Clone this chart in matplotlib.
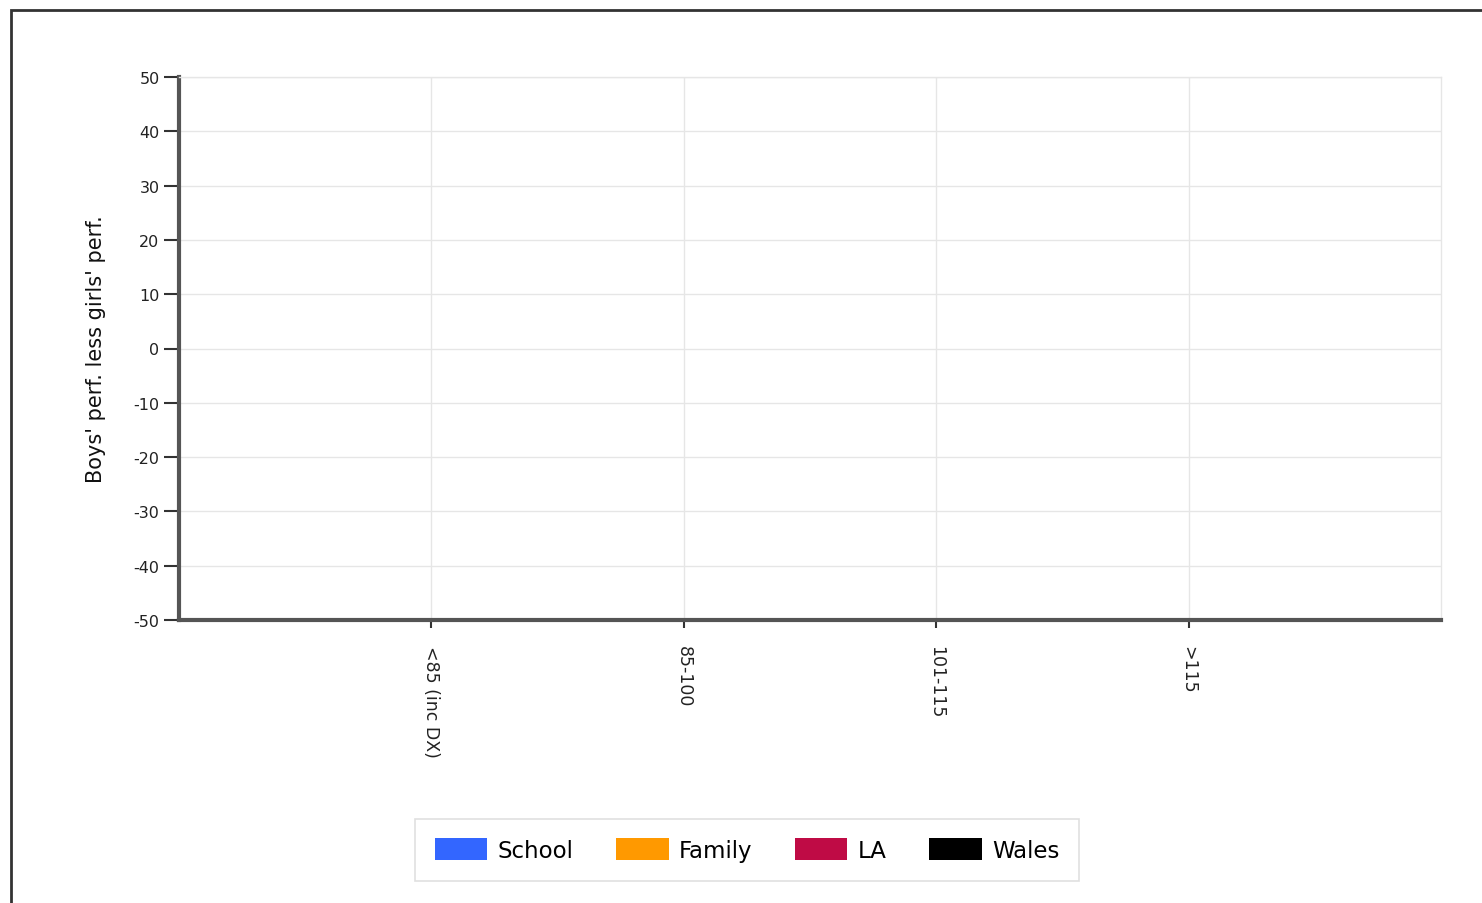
import numpy as np
import matplotlib.pyplot as plt
from matplotlib.patches import Rectangle

plt.rcParams["axes.unicode_minus"] = False

# data (the chart has no bars drawn - every value is missing)
categories = ["<85 (inc DX)", "85-100", "101-115", ">115"]
series = ["School", "Family", "LA", "Wales"]
colors = ["#3366ff", "#ff9900", "#bf0b45", "#000000"]
values = {
    "School": [np.nan, np.nan, np.nan, np.nan],
    "Family": [np.nan, np.nan, np.nan, np.nan],
    "LA": [np.nan, np.nan, np.nan, np.nan],
    "Wales": [np.nan, np.nan, np.nan, np.nan],
}
yticks = list(range(-50, 51, 10))

fig = plt.figure(figsize=(14.82, 9.04), dpi=100)
ax = fig.add_axes([179 / 1482, 1 - 621 / 904, (1441 - 179) / 1482, (621 - 78) / 904])

x = np.arange(1, len(categories) + 1)
w = 0.18
for i, name in enumerate(series):
    ax.bar(x + (i - 1.5) * w, values[name], w, color=colors[i], label=name)

ax.set_xlim(0, len(categories) + 1)
ax.set_ylim(-50, 50)
ax.set_yticks(yticks)
ax.set_xticks(x)
ax.set_xticklabels(categories, rotation=270, fontsize=12.5, color="#222222")
ax.tick_params(axis="y", labelsize=11.5, labelcolor="#222222", length=11, width=1.5, color="#333333", pad=3)
ax.tick_params(axis="x", length=6, width=1.5, color="#333333", pad=12)
ax.grid(True, color="#e6e6e6", linewidth=1)
ax.set_axisbelow(True)

for s in ["top", "right"]:
    ax.spines[s].set_color("#e6e6e6")
    ax.spines[s].set_linewidth(1)
for s in ["left", "bottom"]:
    ax.spines[s].set_color("#555555")
    ax.spines[s].set_linewidth(3)

ax.set_ylabel("Boys' perf. less girls' perf.", fontsize=15, color="#111111", labelpad=20)

leg = fig.legend(loc="center", bbox_to_anchor=(747 / 1482, 1 - 851 / 904), ncol=4,
                 fontsize=16.5, frameon=True, fancybox=False, edgecolor="#d8d8d8",
                 handlelength=2.3, handleheight=1.1, columnspacing=1.85, handletextpad=0.45,
                 borderpad=0.85)
leg.get_frame().set_linewidth(1.2)

# outer frame, runs off the right and bottom edges
fig.patches.append(Rectangle((11 / 1482, -0.05), 1.1, 1 - 11 / 904 + 0.05,
                             transform=fig.transFigure, fill=False,
                             edgecolor="#333333", linewidth=2))

fig.savefig("out.png", dpi=100)
